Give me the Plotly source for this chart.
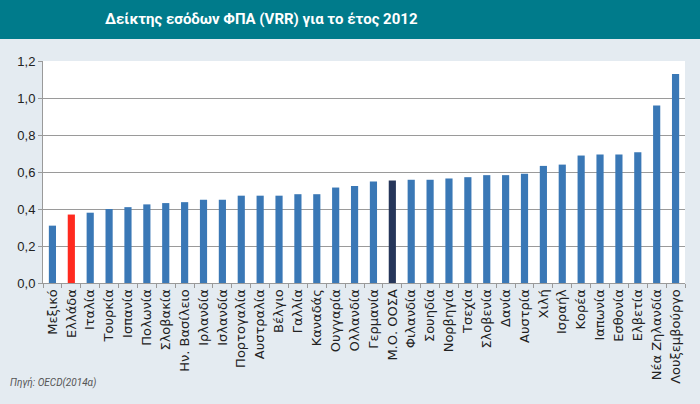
import plotly.graph_objs as go

countries = ['Μεξικό', 'Ελλάδα', 'Ιταλία', 'Τουρκία', 'Ισπανία', 'Πολωνία', 'Σλοβακία',
             'Ην. Βασίλειο', 'Ιρλανδία', 'Ισλανδία', 'Πορτογαλία', 'Αυστραλία', 'Βέλγιο',
             'Γαλλία', 'Καναδάς', 'Ουγγαρία', 'Ολλανδία', 'Γερμανία', 'Μ.Ο. ΟΟΣΑ', 'Φιλανδία',
             'Σουηδία', 'Νορβηγία', 'Τσεχία', 'Σλοβενία', 'Δανία', 'Αυστρία', 'Χιλή', 'Ισραήλ',
             'Κορέα', 'Ιαπωνία', 'Εσθονία', 'Ελβετία', 'Νέα Ζηλανδία', 'Λουξεμβούργο']
vrr = [0.31, 0.37, 0.38, 0.40, 0.41, 0.425, 0.432, 0.437, 0.45, 0.45, 0.472, 0.472, 0.472,
       0.48, 0.48, 0.516, 0.524, 0.549, 0.554, 0.558, 0.558, 0.565, 0.572, 0.583, 0.583,
       0.59, 0.633, 0.64, 0.689, 0.694, 0.694, 0.707, 0.959, 1.13]
y_ticks = [0, 0.2, 0.4, 0.6, 0.8, 1.0, 1.2]

colors = []
for c in countries:
    if c == 'Ελλάδα':
        colors.append('#ff2a1f')
    elif c == 'Μ.Ο. ΟΟΣΑ':
        colors.append('#26365a')
    else:
        colors.append('#3a78b6')

fig = go.Figure()
fig.add_trace(go.Bar(x=countries, y=vrr, marker={'color': colors, 'line': {'width': 0}},
                     hovertemplate='%{x}: %{y:.2f}<extra></extra>'))

font = 'Liberation Sans, Arial, sans-serif'
fig.update_layout(
    width=700, height=404,
    margin={'l': 43, 'r': 15, 't': 61, 'b': 121},
    paper_bgcolor='#e4ebf1',
    plot_bgcolor='#ffffff',
    separators=',.',
    bargap=0.62,
    showlegend=False,
    font={'family': font, 'size': 13, 'color': '#222222'},
)
fig.update_yaxes(range=[0, 1.2], tickvals=y_ticks, tickformat='.1f',
                 showgrid=True, gridcolor='#9a9a9a', gridwidth=1,
                 showline=True, linecolor='#9a9a9a', ticks='outside', ticklen=4,
                 tickcolor='#9a9a9a', zeroline=False, tickfont={'size': 13})
fig.update_xaxes(tickangle=-90, showline=True, linecolor='#9a9a9a', ticks='outside',
                 tickson='boundaries', ticklen=4, tickcolor='#9a9a9a',
                 tickfont={'family': 'DejaVu Sans, sans-serif', 'size': 13})

# title bar
fig.add_shape(type='rect', xref='paper', yref='paper', x0=-1, x1=2, y0=1.099, y1=2,
              fillcolor='#007b8b', line={'width': 0}, layer='below')
fig.add_annotation(text='<b>Δείκτης εσόδων ΦΠΑ (VRR) για το έτος 2012</b>',
                   xref='paper', yref='paper', x=0.34, y=1.187, showarrow=False,
                   xanchor='center', yanchor='middle',
                   font={'family': 'Roboto, sans-serif', 'size': 15, 'color': 'white'})
fig.add_annotation(text='<i>Πηγή: OECD(2014α)</i>', xref='paper', yref='paper',
                   x=-0.055, y=-0.45, showarrow=False, xanchor='left', yanchor='middle',
                   font={'family': 'Roboto, sans-serif', 'size': 10, 'color': '#555555'})

# remove the page margin so the chart sits at the window corner
fig.write_html('out.html', config={'displayModeBar': False},
               post_script="document.body.style.margin='0';")
